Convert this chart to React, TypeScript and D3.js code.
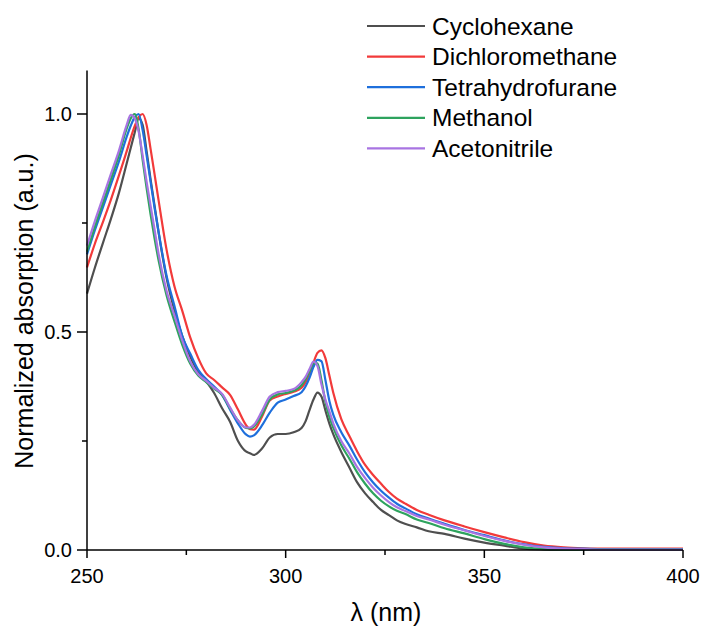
import React from "react";
import * as d3 from "d3";

const wavelengths = [250, 252, 254, 256, 258, 260, 261, 262, 263, 264, 265, 266, 267, 268, 270, 272, 274, 276, 278, 280, 282, 284, 286, 288, 290, 291, 292, 294, 296, 298, 300, 302, 304, 305, 306, 307, 308, 309, 310, 311, 312, 314, 316, 318, 320, 322, 324, 326, 328, 330, 333, 336, 340, 345, 350, 355, 360, 365, 370, 375, 380, 390, 400];

const cyclohexane = [0.588, 0.648, 0.704, 0.759, 0.818, 0.887, 0.922, 0.957, 0.99, 0.975, 0.915, 0.85, 0.79, 0.73, 0.625, 0.55, 0.49, 0.443, 0.408, 0.387, 0.36, 0.325, 0.294, 0.25, 0.226, 0.222, 0.218, 0.232, 0.258, 0.266, 0.266, 0.27, 0.28, 0.295, 0.321, 0.345, 0.361, 0.352, 0.32, 0.29, 0.265, 0.225, 0.19, 0.155, 0.13, 0.11, 0.092, 0.08, 0.068, 0.06, 0.052, 0.043, 0.037, 0.026, 0.017, 0.01, 0.003, 0.001, 0.0, 0.0, 0.0, 0.0, 0.0];
const dichloromethane = [0.648, 0.703, 0.752, 0.803, 0.858, 0.915, 0.945, 0.972, 0.993, 1.0, 0.975, 0.92, 0.862, 0.803, 0.69, 0.605, 0.548, 0.487, 0.44, 0.405, 0.39, 0.373, 0.356, 0.322, 0.287, 0.277, 0.276, 0.305, 0.343, 0.352, 0.358, 0.363, 0.372, 0.385, 0.405, 0.43, 0.452, 0.458, 0.44, 0.4, 0.36, 0.3, 0.262, 0.226, 0.195, 0.172, 0.152, 0.133, 0.118, 0.107, 0.092, 0.081, 0.068, 0.054, 0.041, 0.029, 0.018, 0.01, 0.006, 0.004, 0.003, 0.003, 0.003];
const tetrahydrofurane = [0.678, 0.734, 0.786, 0.838, 0.89, 0.948, 0.973, 0.993, 1.0, 0.963, 0.905, 0.845, 0.785, 0.73, 0.63, 0.56, 0.49, 0.45, 0.413, 0.392, 0.375, 0.355, 0.322, 0.29, 0.265, 0.26, 0.263, 0.285, 0.315, 0.338, 0.345, 0.353, 0.362, 0.375, 0.395, 0.42, 0.436, 0.433, 0.39, 0.342, 0.31, 0.27, 0.24, 0.207, 0.178, 0.155, 0.136, 0.12, 0.106, 0.096, 0.082, 0.072, 0.06, 0.046, 0.034, 0.022, 0.013, 0.007, 0.004, 0.003, 0.002, 0.002, 0.002];
const methanol = [0.684, 0.742, 0.796, 0.85, 0.905, 0.967, 0.99, 1.0, 0.965, 0.895, 0.83, 0.77, 0.715, 0.665, 0.585, 0.525, 0.47, 0.427, 0.4, 0.385, 0.37, 0.356, 0.325, 0.297, 0.28, 0.279, 0.283, 0.31, 0.345, 0.357, 0.36, 0.365, 0.378, 0.392, 0.41, 0.428, 0.428, 0.39, 0.34, 0.305, 0.28, 0.24, 0.21, 0.178, 0.152, 0.13, 0.113, 0.1, 0.09, 0.083, 0.07, 0.062, 0.05, 0.038, 0.025, 0.014, 0.006, 0.002, 0.001, 0.001, 0.001, 0.001, 0.001];
const acetonitrile = [0.698, 0.755, 0.808, 0.862, 0.915, 0.975, 0.998, 0.99, 0.96, 0.905, 0.845, 0.79, 0.735, 0.68, 0.595, 0.538, 0.48, 0.432, 0.403, 0.388, 0.372, 0.358, 0.327, 0.297, 0.281, 0.281, 0.287, 0.318, 0.352, 0.362, 0.365, 0.369, 0.385, 0.397, 0.415, 0.432, 0.422, 0.38, 0.345, 0.318, 0.29, 0.25, 0.222, 0.19, 0.165, 0.143, 0.125, 0.11, 0.098, 0.09, 0.078, 0.07, 0.058, 0.045, 0.032, 0.021, 0.012, 0.006, 0.003, 0.002, 0.001, 0.001, 0.001];

const seriesNames = ["Cyclohexane", "Dichloromethane", "Tetrahydrofurane", "Methanol", "Acetonitrile"];
const seriesValues = [cyclohexane, dichloromethane, tetrahydrofurane, methanol, acetonitrile];
const seriesColors = ["#4f4f4f", "#f23a3a", "#1e6fdc", "#2ea35e", "#a874e2"];

const xMajorTicks = [250, 300, 350, 400];
const xMinorTicks = [275, 325, 375];
const yMajorTicks = [0, 0.5, 1.0];
const yMinorTicks = [0.25, 0.75];

const W = 702;
const H = 630;
const FONT = "'Liberation Sans', Arial, sans-serif";

export default function App() {
  const x = d3.scaleLinear().domain([250, 400]).range([87, 683]);
  const y = d3.scaleLinear().domain([0, 1.1]).range([550, 70.4]);

  const line = d3
    .line<[number, number]>()
    .x((d) => x(d[0]))
    .y((d) => y(d[1]))
    .curve(d3.curveMonotoneX);

  const legendX0 = 367;
  const legendX1 = 425;
  const legendY0 = 26;
  const legendDy = 30.6;

  return (
    <svg
      width={W}
      height={H}
      viewBox={`0 0 ${W} ${H}`}
      style={{ position: "absolute", left: 0, top: 0, background: "#fff" }}
      fontFamily={FONT}
    >
      <rect x={0} y={0} width={W} height={H} fill="#fff" />
      {seriesValues.map((vals, i) => (
        <path
          key={seriesNames[i]}
          d={line(wavelengths.map((w, j) => [w, vals[j]] as [number, number])) || ""}
          fill="none"
          stroke={seriesColors[i]}
          strokeWidth={2.2}
          strokeLinejoin="round"
        />
      ))}

      <line x1={x(250)} x2={x(250)} y1={y(1.1)} y2={y(0)} stroke="#000" strokeWidth={1.5} />
      <line x1={x(250)} x2={x(400)} y1={y(0)} y2={y(0)} stroke="#000" strokeWidth={1.5} />

      {xMajorTicks.map((t) => (
        <g key={"xM" + t}>
          <line x1={x(t)} x2={x(t)} y1={y(0)} y2={y(0) + 8} stroke="#000" strokeWidth={1.5} />
          <text x={x(t)} y={583} textAnchor="middle" fontSize={20} fill="#000">
            {t}
          </text>
        </g>
      ))}
      {xMinorTicks.map((t) => (
        <line key={"xm" + t} x1={x(t)} x2={x(t)} y1={y(0)} y2={y(0) + 5} stroke="#000" strokeWidth={1.5} />
      ))}
      {yMajorTicks.map((t) => (
        <g key={"yM" + t}>
          <line x1={x(250) - 10} x2={x(250)} y1={y(t)} y2={y(t)} stroke="#000" strokeWidth={1.5} />
          <text x={72} y={y(t) + 7} textAnchor="end" fontSize={20} fill="#000">
            {t.toFixed(1)}
          </text>
        </g>
      ))}
      {yMinorTicks.map((t) => (
        <line key={"ym" + t} x1={x(250) - 5} x2={x(250)} y1={y(t)} y2={y(t)} stroke="#000" strokeWidth={1.5} />
      ))}

      <text x={386} y={621} textAnchor="middle" fontSize={25} fill="#000">
        λ (nm)
      </text>
      <text
        transform={`translate(33, 311) rotate(-90)`}
        textAnchor="middle"
        fontSize={25}
        fill="#000"
      >
        Normalized absorption (a.u.)
      </text>

      {seriesNames.map((name, i) => (
        <g key={"lg" + name}>
          <line
            x1={legendX0}
            x2={legendX1}
            y1={legendY0 + i * legendDy}
            y2={legendY0 + i * legendDy}
            stroke={seriesColors[i]}
            strokeWidth={2.2}
          />
          <text x={432} y={legendY0 + i * legendDy + 8.5} fontSize={24.5} fill="#000">
            {name}
          </text>
        </g>
      ))}
    </svg>
  );
}
